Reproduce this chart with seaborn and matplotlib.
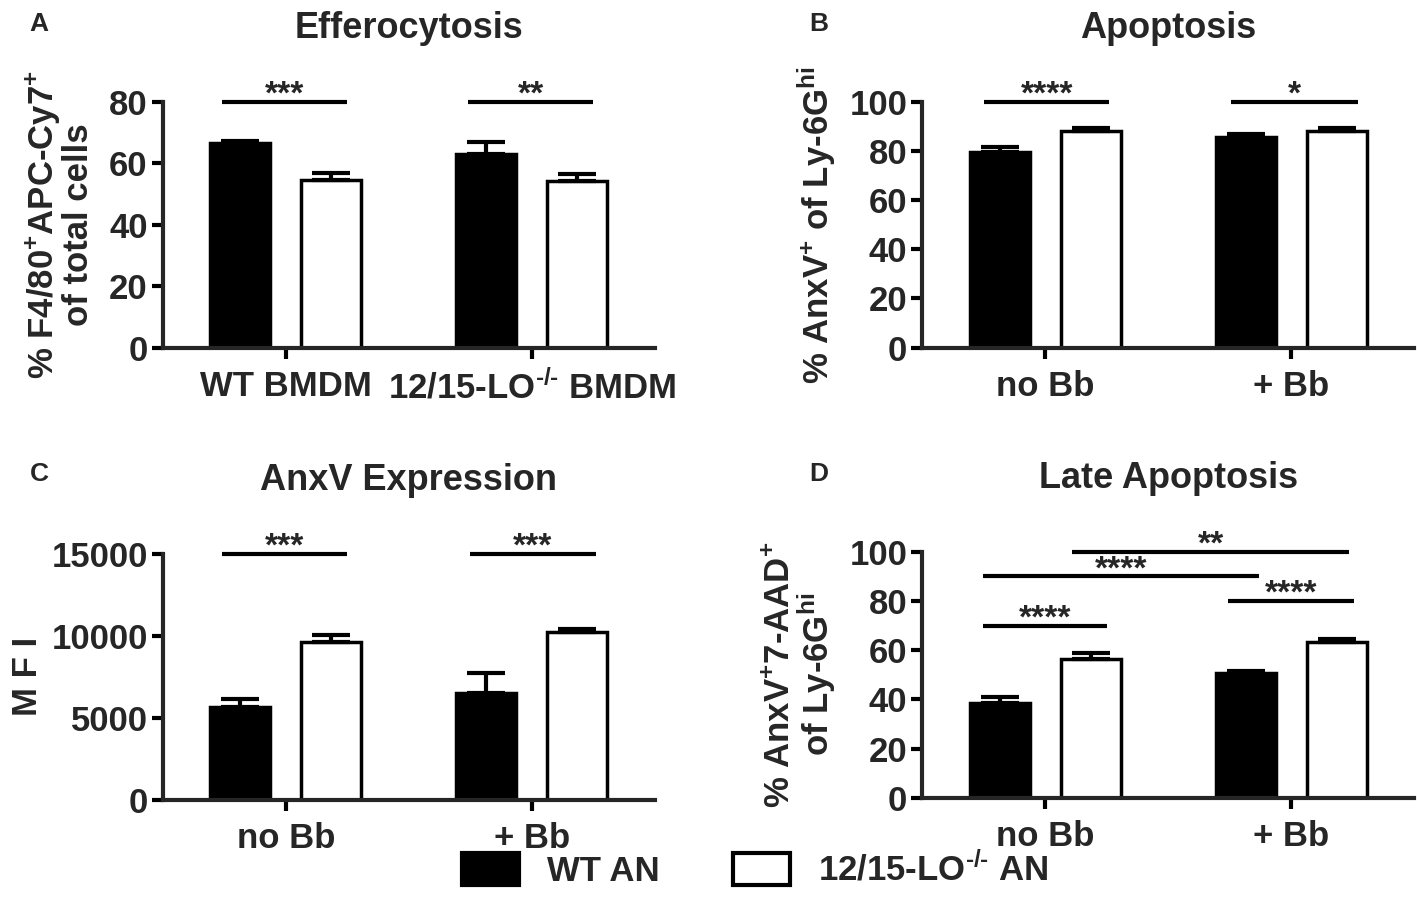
import numpy as np
import pandas as pd
import matplotlib
matplotlib.use("Agg")
import matplotlib.pyplot as plt
from matplotlib.patches import Patch
import seaborn as sns

HY = "\u2010"  # plain hyphen for the -/- superscript

# categories
cats_A = ["WT BMDM", "12/15-LO$^{" + HY + "/" + HY + "}$ BMDM"]
cats_bb = ["no Bb", "+ Bb"]
legend_labels = ["WT AN", "12/15-LO$^{" + HY + "/" + HY + "}$ AN"]

# values (mean, upper SEM)
A_wt = [66.5, 63.0]
A_ko = [54.4, 54.3]
A_wt_err = [0.6, 3.9]
A_ko_err = [2.5, 2.3]

B_wt = [79.4, 85.5]
B_ko = [87.9, 88.2]
B_wt_err = [2.3, 1.3]
B_ko_err = [1.2, 0.9]

C_wt = [5630, 6490]
C_ko = [9590, 10200]
C_wt_err = [490, 1220]
C_ko_err = [425, 180]

D_wt = [38.4, 50.7]
D_ko = [56.5, 63.5]
D_wt_err = [2.4, 0.8]
D_ko_err = [2.2, 1.0]

# significance bars: (from, to, level, label)
sig_A = [(-0.26, 0.25, 80, "***"), (0.74, 1.25, 80, "**")]
sig_B = [(-0.25, 0.26, 100, "****"), (0.756, 1.27, 100, "*")]
sig_C = [(-0.26, 0.25, 15000, "***"), (0.75, 1.26, 15000, "***")]
sig_D = [(-0.253, 0.25, 70, "****"), (0.742, 1.257, 80, "****"),
         (-0.253, 0.87, 90, "****"), (0.109, 1.235, 100, "**")]

sns.set_theme(style="ticks")
plt.rcParams["font.family"] = ["Liberation Sans", "DejaVu Sans"]
plt.rcParams["font.weight"] = "bold"
plt.rcParams["axes.titleweight"] = "bold"
plt.rcParams["axes.labelweight"] = "bold"
plt.rcParams["mathtext.fontset"] = "custom"
plt.rcParams["mathtext.rm"] = "Liberation Sans:bold"
plt.rcParams["mathtext.it"] = "Liberation Sans:bold"
plt.rcParams["mathtext.bf"] = "Liberation Sans:bold"
plt.rcParams["mathtext.default"] = "rm"

TICK = 25


def panel(ax, cats, wt, ko, wt_err, ko_err, ylim, yticks, title, ylabel, sigs, lpad):
    df = pd.DataFrame({"cond": cats * 2,
                       "geno": ["WT"] * 2 + ["KO"] * 2,
                       "value": wt + ko})
    sns.barplot(data=df, x="cond", y="value", hue="geno", hue_order=["WT", "KO"],
                palette={"WT": "black", "KO": "white"}, saturation=1,
                edgecolor="black", linewidth=2.5, width=0.74, gap=0.34,
                errorbar=None, legend=False, ax=ax)
    bars = sorted(ax.patches, key=lambda p: p.get_x())
    xs = [p.get_x() + p.get_width() / 2 for p in bars]
    hs = [p.get_height() for p in bars]
    errs = [wt_err[0], ko_err[0], wt_err[1], ko_err[1]]
    ax.errorbar(xs, hs, yerr=[np.zeros(4), errs], fmt="none", ecolor="black",
                elinewidth=3, capsize=14, capthick=3, zorder=3)

    for x0, x1, y, s in sigs:
        ax.plot([x0, x1], [y, y], color="black", lw=3, clip_on=False,
                solid_capstyle="butt")
        ax.annotate(s, xy=((x0 + x1) / 2, y), xytext=(0, -1.5),
                    textcoords="offset points", ha="center", va="baseline",
                    fontsize=24, fontweight="bold", annotation_clip=False)

    ax.set_xlim(-0.5, 1.5)
    ax.set_ylim(*ylim)
    ax.set_yticks(yticks)
    ax.set_xlabel("")
    ax.set_ylabel(ylabel, fontsize=25, labelpad=lpad, linespacing=1.0)
    ax.set_title(title, fontsize=26, pad=46)
    sns.despine(ax=ax)
    for sp in ["left", "bottom"]:
        ax.spines[sp].set_linewidth(3)
    ax.tick_params(axis="both", length=8, width=3, labelsize=TICK, color="black")
    ax.tick_params(axis="y", pad=3)
    ax.tick_params(axis="x", pad=8)


fig = plt.figure(figsize=(14.17, 9.15), dpi=100)
axA = fig.add_axes([0.115, 0.620, 0.347, 0.269])
axB = fig.add_axes([0.651, 0.620, 0.347, 0.269])
axC = fig.add_axes([0.115, 0.126, 0.347, 0.269])
axD = fig.add_axes([0.651, 0.128, 0.347, 0.269])

panel(axA, cats_A, A_wt, A_ko, A_wt_err, A_ko_err, (0, 80), [0, 20, 40, 60, 80],
      "Efferocytosis", "% F4/80$^{+}$APC-Cy7$^{+}$\nof total cells", sig_A, 10)
panel(axB, cats_bb, B_wt, B_ko, B_wt_err, B_ko_err, (0, 100), [0, 20, 40, 60, 80, 100],
      "Apoptosis", "% AnxV$^{+}$ of Ly-6G$^{hi}$", sig_B, 8)
panel(axC, cats_bb, C_wt, C_ko, C_wt_err, C_ko_err, (0, 15000), [0, 5000, 10000, 15000],
      "AnxV Expression", "M F I", sig_C, 5)
panel(axD, cats_bb, D_wt, D_ko, D_wt_err, D_ko_err, (0, 100), [0, 20, 40, 60, 80, 100],
      "Late Apoptosis", "% AnxV$^{+}$7-AAD$^{+}$\nof Ly-6G$^{hi}$", sig_D, 8)

for lab, x, y in [("A", 0.021, 0.974), ("B", 0.571, 0.974),
                  ("C", 0.021, 0.482), ("D", 0.571, 0.482)]:
    fig.text(x, y, lab, fontsize=19, fontweight="bold", ha="left", va="center")

handles = [Patch(facecolor="black", edgecolor="black", linewidth=3),
           Patch(facecolor="white", edgecolor="black", linewidth=3)]
fig.legend(handles, legend_labels, loc="center", bbox_to_anchor=(0.533, 0.049),
           ncol=2, frameon=False, fontsize=25, handlelength=1.65, handleheight=1.05,
           handletextpad=0.8, columnspacing=2.1)

fig.savefig("out.png", dpi=100)
